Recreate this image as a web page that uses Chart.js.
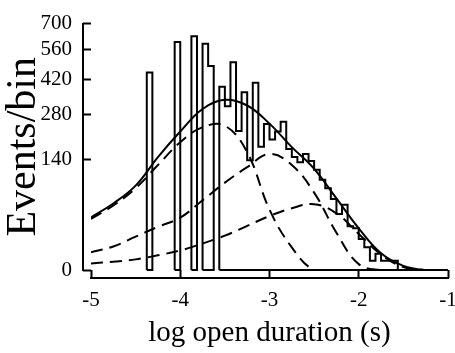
<!DOCTYPE html>
<html>
<head>
<meta charset="utf-8">
<script src="https://cdn.jsdelivr.net/npm/chart.js@4.4.1/dist/chart.umd.min.js"></script>
<style>
  html, body { margin: 0; padding: 0; background: #fff; }
  #graph { display: block; }
</style>
</head>
<body>
<canvas id="graph" width="455" height="353"></canvas>
<script>
//histogram bins (log10 s), first bin edge and width
const binStart = -4.375;
const binWidth = 0.0625;
const histCounts = [450, 0, 0, 0, 0, 600, 0, 0, 630, 0, 590, 480, 0,
    387, 309, 498, 223, 364, 139, 404, 175, 246, 196, 221, 253, 169, 147,
    134, 155, 137, 116, 94, 77, 58, 36, 49, 22, 20, 11, 6, 1, 3, 1, 1, 1];

//fitted curves
const fitX = [-5, -4.75, -4.5, -4.25, -4, -3.75, -3.5, -3.25, -3, -2.75, -2.5, -2.25, -2, -1.75, -1.5, -1.25, -1];
const totalFit = [32, 51, 82, 147, 221, 299, 334, 312, 247, 174, 118, 59, 20, 3.2, 0.2, 0, 0];
const fastFit = [30, 48, 77, 127, 188, 235, 240, 160, 42, 5.9, 0, 0, 0, 0, 0, 0, 0];
const midFit = [3.6, 6.4, 12.8, 21.5, 31.6, 56, 88, 122, 155, 127, 69, 16, 0.4, 0, 0, 0, 0];
const slowFit = [0.5, 0.8, 1.3, 2.5, 4.4, 8.1, 13.6, 22.5, 33.6, 44, 50, 37, 15, 2.8, 0.1, 0, 0];

//axis ticks
const xMin = -5, xMax = -1, xStep = 1;
const yMax = 700, yStep = 140;

//square-root y axis
class SqrtScale extends Chart.LinearScale {
    getPixelForValue(value) {
        if (value === null || isNaN(value)) return NaN;
        const lo = Math.sqrt(Math.max(this.min, 0));
        const hi = Math.sqrt(this.max);
        return this.getPixelForDecimal((Math.sqrt(Math.max(value, 0)) - lo) / (hi - lo));
    }
    getValueForPixel(pixel) {
        const lo = Math.sqrt(Math.max(this.min, 0));
        const hi = Math.sqrt(this.max);
        const s = lo + this.getDecimalForPixel(pixel) * (hi - lo);
        return s * s;
    }
}
SqrtScale.id = 'sqrt';
SqrtScale.defaults = {};
Chart.register(SqrtScale);

//outline of the histogram, one closed shape per run of filled bins
const histPoints = [];
let i = 0;
while (i < histCounts.length) {
    if (histCounts[i] === 0) { i++; continue; }
    const left = binStart + i * binWidth;
    histPoints.push({x: left, y: 0});
    while (i < histCounts.length && histCounts[i] > 0) {
        const x0 = binStart + i * binWidth;
        histPoints.push({x: x0, y: histCounts[i]}, {x: x0 + binWidth, y: histCounts[i]});
        i++;
    }
    const end = binStart + i * binWidth;
    const right = i === histCounts.length ? xMax : end;
    histPoints.push({x: end, y: 0}, {x: right, y: 0}, {x: left, y: 0}, {x: left, y: null});
}

const curve = (values) => fitX.map((x, k) => ({x: x, y: values[k]}));

Chart.defaults.font.family = "'Liberation Serif', 'Times New Roman', serif";
Chart.defaults.color = '#000';

const curveStyle = {
    borderColor: '#000',
    borderWidth: 2,
    pointRadius: 0,
    tension: 0.4,
    fill: false,
    xAxisID: 'x',
    yAxisID: 'y'
};

new Chart(document.getElementById('graph'), {
    type: 'line',
    data: {
        datasets: [
            {
                label: 'histogram',
                data: histPoints,
                borderColor: '#000',
                borderWidth: 2,
                pointRadius: 0,
                stepped: true,
                spanGaps: false,
                fill: false,
                clip: false,
                borderJoinStyle: 'miter',
                xAxisID: 'x',
                yAxisID: 'y'
            },
            Object.assign({label: 'total', data: curve(totalFit)}, curveStyle),
            Object.assign({label: 'fast', data: curve(fastFit), borderDash: [12, 7]}, curveStyle),
            Object.assign({label: 'middle', data: curve(midFit), borderDash: [12, 7]}, curveStyle),
            Object.assign({label: 'slow', data: curve(slowFit), borderDash: [12, 7]}, curveStyle)
        ]
    },
    options: {
        responsive: false,
        animation: false,
        events: [],
        layout: { padding: { top: 19, right: 7, bottom: 0, left: 0 } },
        plugins: { legend: { display: false }, tooltip: { enabled: false } },
        scales: {
            x: {
                type: 'linear', position: 'bottom', weight: 0,
                min: xMin, max: xMax,
                ticks: { display: false, stepSize: xStep },
                grid: { drawOnChartArea: false, drawTicks: true, tickLength: 8, tickWidth: 2, tickColor: '#000' },
                border: { display: false },
                afterFit: s => { s.height = 8; }
            },
            x2: {
                type: 'linear', position: 'bottom', weight: 1,
                min: xMin, max: xMax,
                ticks: { stepSize: xStep, autoSkip: false, maxRotation: 0, padding: 10, color: '#000', font: { size: 21 } },
                grid: { display: false, drawTicks: false },
                border: { display: true, color: '#000', width: 2 },
                title: { display: true, text: 'log open duration (s)', color: '#000', font: { size: 29, lineHeight: 1 }, padding: { top: 0, bottom: 5 } },
                afterFit: s => { s.height = 75; s.paddingLeft = 0; s.paddingRight = 0; }
            },
            y: {
                type: 'sqrt', position: 'left', weight: 0,
                min: 0, max: yMax,
                ticks: { display: false, stepSize: yStep },
                grid: { drawOnChartArea: false, drawTicks: true, tickLength: 8, tickWidth: 2, tickColor: '#000' },
                border: { display: false },
                afterFit: s => { s.width = 8; }
            },
            y2: {
                type: 'sqrt', position: 'left', weight: 1,
                min: 0, max: yMax,
                ticks: { stepSize: yStep, padding: 11, color: '#000', font: { size: 21 } },
                grid: { display: false, drawTicks: false },
                border: { display: true, color: '#000', width: 2 },
                title: { display: true, text: 'Events/bin', color: '#000', font: { size: 42, lineHeight: 1 }, padding: { top: 3, bottom: 0 } },
                afterFit: s => { s.width = 83; }
            }
        }
    }
});
</script>
</body>
</html>
